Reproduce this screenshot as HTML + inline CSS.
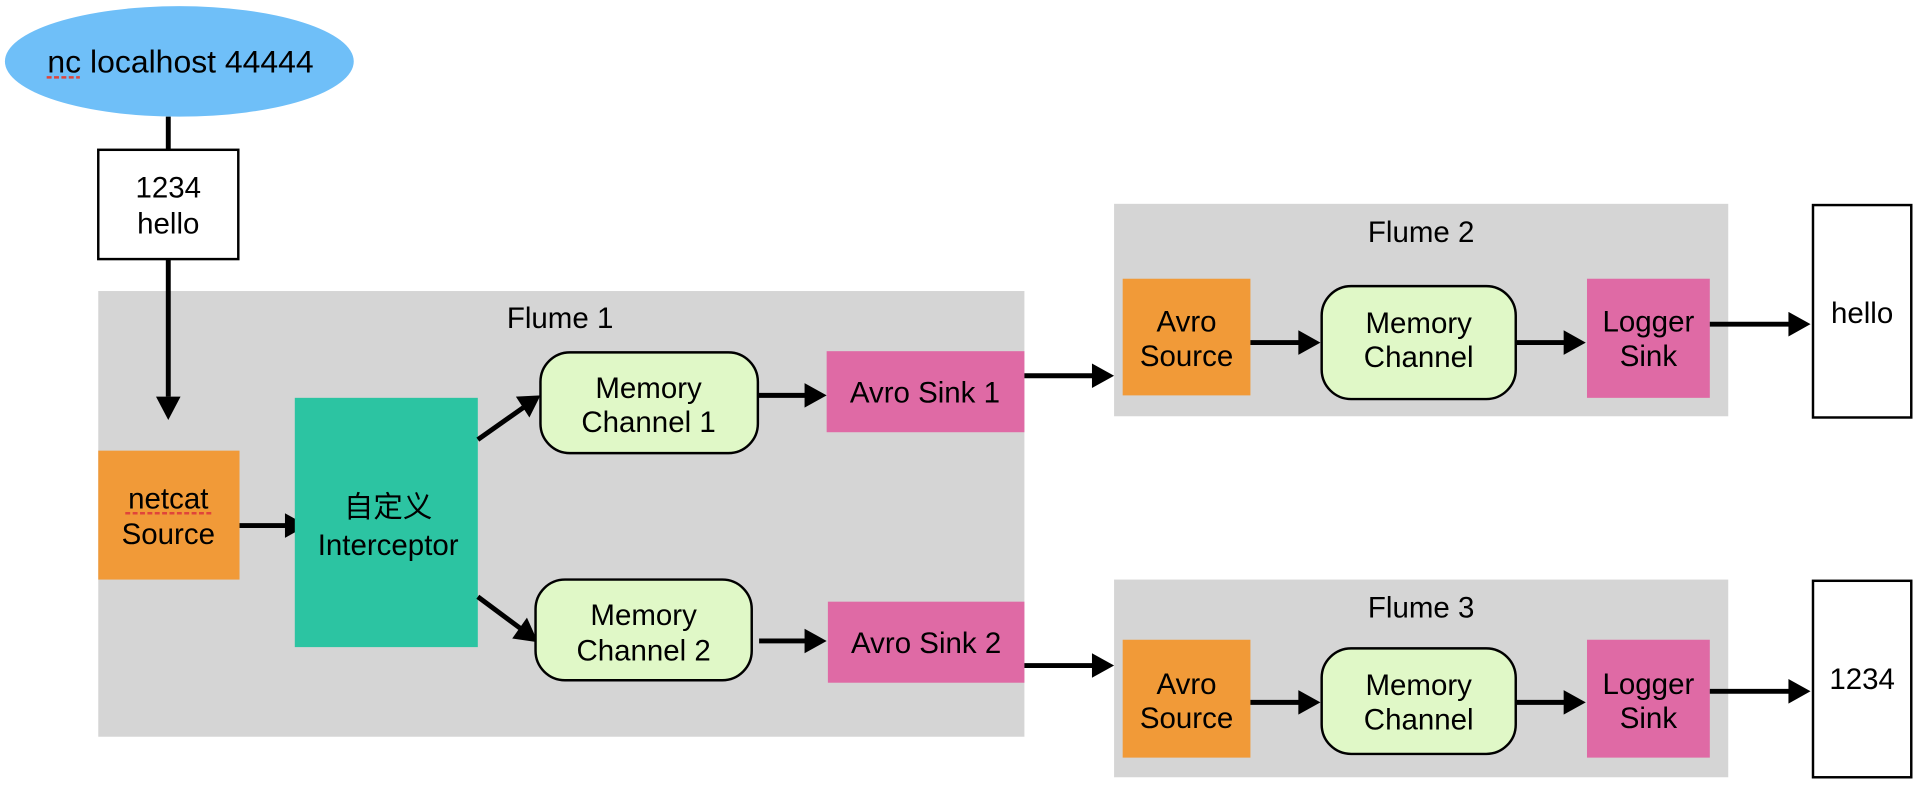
<!DOCTYPE html>
<html><head><meta charset="utf-8"><style>
html,body{margin:0;padding:0;background:#fff;}
svg{display:block;}
text{font-family:"Liberation Sans","Noto Sans CJK SC",sans-serif;font-size:24px;fill:#000;text-anchor:middle;}
</style></head><body>
<svg width="1926" height="792" viewBox="0 0 1568 645" preserveAspectRatio="none" xmlns="http://www.w3.org/2000/svg">
<ellipse cx="146" cy="50" rx="142" ry="45" fill="#6fbff8"/>
<text x="147" y="59" style="font-size:26px">nc localhost 44444</text>
<line x1="38" y1="63" x2="65" y2="63" stroke="#e0443a" stroke-width="2" stroke-dasharray="4,2"/>
<line x1="137" y1="95" x2="137" y2="122" stroke="#000" stroke-width="4"/>
<rect x="80" y="122" width="114" height="89" fill="#fff" stroke="#000" stroke-width="2"/>
<text x="137" y="161">1234</text><text x="137" y="190">hello</text>
<rect x="80" y="237" width="754" height="363" fill="#d5d5d5"/>
<text x="456" y="267">Flume 1</text>
<line x1="137" y1="211" x2="137" y2="323" stroke="#000" stroke-width="4"/>
<polygon points="127,323 147,323 137,342" fill="#000"/>
<rect x="80" y="367" width="115" height="105" fill="#f19a38"/>
<text x="137" y="414">netcat</text><text x="137" y="443">Source</text>
<line x1="102" y1="418" x2="174" y2="418" stroke="#e0443a" stroke-width="2" stroke-dasharray="4,2"/>
<line x1="195" y1="428" x2="233" y2="428" stroke="#000" stroke-width="4"/>
<polygon points="232,418 250,428 232,438" fill="#000"/>
<rect x="240" y="324" width="149" height="203" fill="#2cc4a2"/>
<text x="316" y="421">自定义</text><text x="316" y="452">Interceptor</text>
<line x1="389" y1="358" x2="426" y2="332" stroke="#000" stroke-width="4"/>
<polygon points="420,323 440,322 431,340" fill="#000"/>
<line x1="389" y1="486" x2="424" y2="512" stroke="#000" stroke-width="4"/>
<polygon points="429,503 438,523 417,520" fill="#000"/>
<rect x="440" y="287" width="177" height="82" rx="24" fill="#e0f8c7" stroke="#000" stroke-width="2"/>
<text x="528" y="324">Memory</text><text x="528" y="352">Channel 1</text>
<line x1="617" y1="322" x2="656" y2="322" stroke="#000" stroke-width="4"/>
<polygon points="655,312 673,322 655,332" fill="#000"/>
<rect x="673" y="286" width="161" height="66" fill="#df6aa5"/>
<text x="753" y="328">Avro Sink 1</text>
<rect x="436" y="472" width="176" height="82" rx="24" fill="#e0f8c7" stroke="#000" stroke-width="2"/>
<text x="524" y="509">Memory</text><text x="524" y="538">Channel 2</text>
<line x1="618" y1="522" x2="656" y2="522" stroke="#000" stroke-width="4"/>
<polygon points="655,512 673,522 655,532" fill="#000"/>
<rect x="674" y="490" width="160" height="66" fill="#df6aa5"/>
<text x="754" y="532">Avro Sink 2</text>
<line x1="834" y1="306" x2="890" y2="306" stroke="#000" stroke-width="4"/>
<polygon points="889,296 907,306 889,316" fill="#000"/>
<line x1="834" y1="542" x2="890" y2="542" stroke="#000" stroke-width="4"/>
<polygon points="889,532 907,542 889,552" fill="#000"/>
<rect x="907" y="166" width="500" height="173" fill="#d5d5d5"/>
<text x="1157" y="197">Flume 2</text>
<rect x="914" y="227" width="104" height="95" fill="#f19a38"/>
<text x="966" y="270">Avro</text><text x="966" y="298">Source</text>
<line x1="1018" y1="279" x2="1058" y2="279" stroke="#000" stroke-width="4"/>
<polygon points="1057,269 1075,279 1057,289" fill="#000"/>
<rect x="1076" y="233" width="158" height="92" rx="24" fill="#e0f8c7" stroke="#000" stroke-width="2"/>
<text x="1155" y="271">Memory</text><text x="1155" y="299">Channel</text>
<line x1="1234" y1="279" x2="1274" y2="279" stroke="#000" stroke-width="4"/>
<polygon points="1273,269 1291,279 1273,289" fill="#000"/>
<rect x="1292" y="227" width="100" height="97" fill="#df6aa5"/>
<text x="1342" y="270">Logger</text><text x="1342" y="298">Sink</text>
<line x1="1392" y1="264" x2="1457" y2="264" stroke="#000" stroke-width="4"/>
<polygon points="1456,254 1474,264 1456,274" fill="#000"/>
<rect x="1476" y="167" width="80" height="173" fill="#fff" stroke="#000" stroke-width="2"/>
<text x="1516" y="263">hello</text>
<rect x="907" y="472" width="500" height="161" fill="#d5d5d5"/>
<text x="1157" y="503">Flume 3</text>
<rect x="914" y="521" width="104" height="96" fill="#f19a38"/>
<text x="966" y="565">Avro</text><text x="966" y="593">Source</text>
<line x1="1018" y1="572" x2="1058" y2="572" stroke="#000" stroke-width="4"/>
<polygon points="1057,562 1075,572 1057,582" fill="#000"/>
<rect x="1076" y="528" width="158" height="86" rx="24" fill="#e0f8c7" stroke="#000" stroke-width="2"/>
<text x="1155" y="566">Memory</text><text x="1155" y="594">Channel</text>
<line x1="1234" y1="572" x2="1274" y2="572" stroke="#000" stroke-width="4"/>
<polygon points="1273,562 1291,572 1273,582" fill="#000"/>
<rect x="1292" y="521" width="100" height="96" fill="#df6aa5"/>
<text x="1342" y="565">Logger</text><text x="1342" y="593">Sink</text>
<line x1="1392" y1="563" x2="1457" y2="563" stroke="#000" stroke-width="4"/>
<polygon points="1456,553 1474,563 1456,573" fill="#000"/>
<rect x="1476" y="473" width="80" height="160" fill="#fff" stroke="#000" stroke-width="2"/>
<text x="1516" y="561">1234</text>
</svg>
</body></html>
